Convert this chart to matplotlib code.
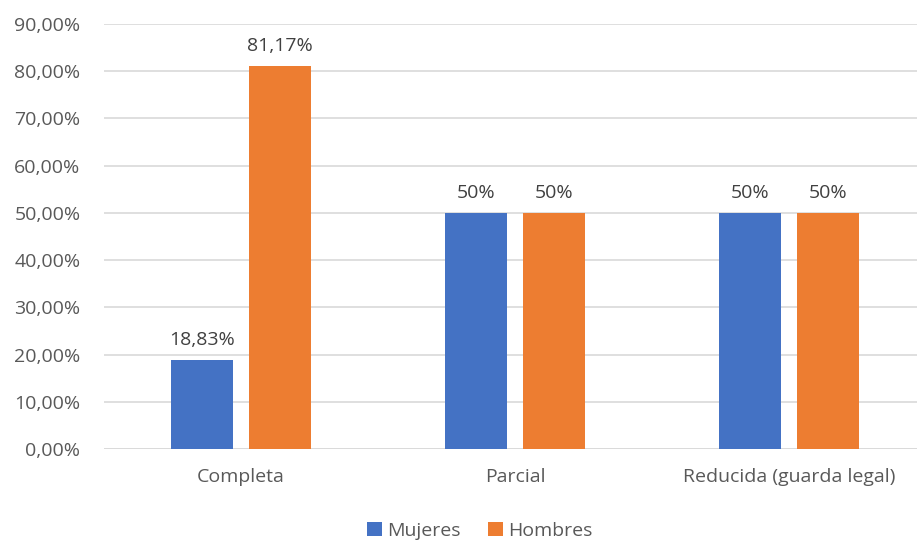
import numpy as np
import matplotlib
matplotlib.use("Agg")
import matplotlib.pyplot as plt
from matplotlib.ticker import FuncFormatter

# tipo de jornada vs. sexo
categorias = ["Completa", "Parcial", "Reducida (guarda legal)"]
mujeres = [18.83, 50, 50]
hombres = [81.17, 50, 50]
etiq_mujeres = ["18,83%", "50%", "50%"]
etiq_hombres = ["81,17%", "50%", "50%"]

AZUL = "#4472C4"
NARANJA = "#ED7D31"
GRIS = "#595959"
FS = 14

plt.rcParams["font.family"] = ["Open Sans", "DejaVu Sans"]

fig = plt.figure(figsize=(9.17, 5.42), dpi=100)
ax = fig.add_axes([0.1134, 0.1716, 0.8866, 0.7841])

x = np.arange(len(categorias))
w, off = 0.226, 0.142
b1 = ax.bar(x - off, mujeres, w, color=AZUL, label="Mujeres", zorder=3)
b2 = ax.bar(x + off, hombres, w, color=NARANJA, label="Hombres", zorder=3)

for bars, labs in ((b1, etiq_mujeres), (b2, etiq_hombres)):
    for r, t in zip(bars, labs):
        ax.annotate(t, (r.get_x() + r.get_width() / 2, r.get_height()),
                    xytext=(0, 8), textcoords="offset points",
                    ha="center", va="bottom", fontsize=FS, color="#404040")

ax.set_ylim(0, 90)
ax.set_yticks(np.arange(0, 91, 10))
ax.yaxis.set_major_formatter(FuncFormatter(lambda v, p: ("%.2f%%" % v).replace(".", ",")))
ax.set_xlim(-0.5, 2.467)
ax.set_xticks(x)
ax.set_xticklabels(categorias)
ax.grid(axis="y", color="#D9D9D9", linewidth=1.2, zorder=0)
for s in ax.spines.values():
    s.set_visible(False)
ax.axhline(0, color="#D9D9D9", linewidth=1.2, zorder=1)
ax.tick_params(axis="both", length=0, labelsize=FS, labelcolor=GRIS)
ax.tick_params(axis="y", pad=17)
ax.tick_params(axis="x", pad=14)

ax.legend(loc="center", bbox_to_anchor=(0.4625, -0.193),
          ncol=2, frameon=False, fontsize=FS, handlelength=0.75, handleheight=0.75,
          handletextpad=0.3, columnspacing=1.4, labelcolor=GRIS)

fig.savefig("out.png", dpi=100)
